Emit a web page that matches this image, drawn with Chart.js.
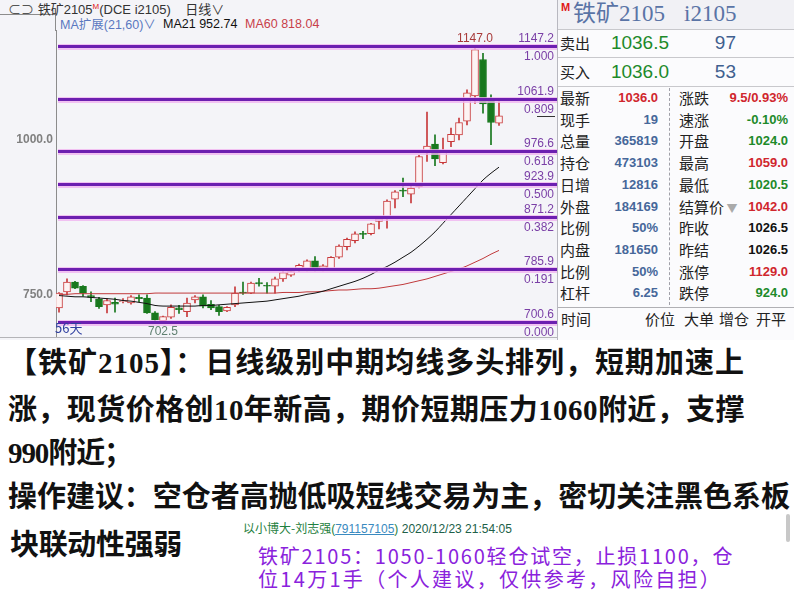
<!DOCTYPE html>
<html>
<head>
<meta charset="utf-8">
<script src="https://cdn.jsdelivr.net/npm/chart.js@4.4.1/dist/chart.umd.min.js"></script>
<style>
  body { margin: 0; width: 794px; height: 607px; overflow: hidden; background: #fff;
         font-family: "Liberation Sans", Arial, "Noto Sans CJK SC", sans-serif; }
  .abs { position: absolute; white-space: nowrap; }
  #top { position: absolute; left: 0; top: 0; width: 557px; height: 340px; background: #f4f4f8; }
  #chartBox { position: absolute; left: 0; top: 30px; width: 557px; height: 307px; }
  #quote { position: absolute; left: 557px; top: 0; width: 237px; height: 340px; background: #fbfbfd;
           border-left: 1px solid #b8b8c0; box-sizing: border-box; }
  .cjk { font-family: "Noto Sans CJK SC", sans-serif; }
  .note { position: absolute; left: 8px; white-space: nowrap; font-weight: bold; font-size: 29px;
          line-height: 30px; color: #111; font-family: "Liberation Serif", "Noto Sans CJK SC", serif; }
  .chat { position: absolute; left: 258px; white-space: nowrap; font-size: 20px; line-height: 21px;
          color: #8a22dc; font-family: "Noto Sans CJK SC", sans-serif; }
  .hd { position: absolute; top: 16px; font-size: 12.5px; line-height: 16px; white-space: nowrap; }
</style>
</head>
<body>

<div id="top">
  <div class="abs" style="left:0;top:14px;width:55px;height:1px;background:#8c8c8c"></div>
  <div class="abs" style="left:55px;top:14px;width:1px;height:17px;background:#8c8c8c"></div>
  <div class="abs" style="left:8px;top:0;font-size:13px;line-height:14px;color:#333">
    <span style="color:#555">⊂⊃</span> <span class="cjk">铁矿</span>2105<sup style="color:#e02020;font-size:8px">M</sup>(DCE i2105) &nbsp;&nbsp;&nbsp;<span class="cjk">日线∨</span>
  </div>
  <div class="hd" style="left:60px;color:#5a78c0">MA<span class="cjk">扩展</span>(21,60)∨</div>
  <div class="hd" id="ma21Txt" style="left:163px;color:#111"></div>
  <div class="hd" id="ma60Txt" style="left:245px;color:#c8404a"></div>
  <div id="chartBox"><canvas id="kChart"></canvas></div>
  <div class="abs cjk" style="left:55px;top:320px;font-size:13px;line-height:16px;color:#3040a0">56天</div>
  <div class="abs" style="left:0;top:337px;width:557px;height:1px;background:#b4b4b8"></div>
</div>

<div id="quote">
  <div class="abs" style="left:0;top:0;width:236px;height:29px;background:#f1f1f5"></div>
  <div class="abs" style="left:3px;top:1px;font-size:11px;font-weight:bold;color:#e01818">M</div>
  <div class="abs" style="left:15px;top:0;font-size:23px;line-height:27px;color:#5a74a6;font-family:'Liberation Serif','Noto Sans CJK SC',serif">铁矿2105</div>
  <div class="abs" style="left:126px;top:0;font-size:23px;line-height:27px;color:#5a74a6;font-family:'Liberation Serif',serif">i2105</div>
  <div class="abs" style="left:0;top:29px;width:236px;height:1px;background:#c8c8cc"></div>
  <div class="abs" style="left:0;top:57px;width:236px;height:1px;background:#c8c8cc"></div>
  <div class="abs" style="left:0;top:86px;width:236px;height:1px;background:#c8c8cc"></div>
  <div class="abs" style="left:111px;top:88px;width:0;height:217px;border-left:1px dashed #a0a0a8"></div>
  <div class="abs" style="left:0;top:307px;width:236px;height:1px;background:#b0b0b4"></div>
  <div id="rows"></div>
  <div class="abs cjk" style="left:3px;top:309px;font-size:15px;line-height:20px;color:#222">时间</div>
  <div class="abs cjk" style="left:87px;top:309px;font-size:15px;line-height:20px;color:#222">价位</div>
  <div class="abs cjk" style="left:126px;top:309px;font-size:15px;line-height:20px;color:#222">大单</div>
  <div class="abs cjk" style="left:161px;top:309px;font-size:15px;line-height:20px;color:#222">增仓</div>
  <div class="abs cjk" style="left:198px;top:309px;font-size:15px;line-height:20px;color:#222">开平</div>
</div>

<div class="note fit" data-w="737" style="top:348px">【铁矿2105】：日线级别中期均线多头排列，短期加速上</div>
<div class="note fit" data-w="737" style="top:395px">涨，现货价格创10年新高，期价短期压力1060附近，支撑</div>
<div class="note fit" data-w="124" style="top:438px">990附近；</div>
<div class="note fit" data-w="782" style="top:482px">操作建议：空仓者高抛低吸短线交易为主，密切关注黑色系板</div>
<div class="note fit" data-w="172" style="top:530px;left:10px">块联动性强弱</div>

<div class="abs" style="left:243px;top:520px;font-size:12px;line-height:16px;color:#1f8040">
  <span class="cjk">以小博大-刘志强</span>(<span style="color:#3a8ac0;text-decoration:underline">791157105</span>) <span style="color:#206048">2020/12/23 21:54:05</span>
</div>
<div class="chat fit" data-w="476" style="top:545px">铁矿2105：1050-1060轻仓试空，止损1100，仓</div>
<div class="chat fit" data-w="464" style="top:568px">位14万1手（个人建议，仅供参考，风险自担）</div>
<div class="abs" style="left:786px;top:514px;width:4px;height:28px;background:#c8c8c8;border-radius:2px"></div>

<script>
// daily candles, oldest first
const opens  = [725,751,767,760,745,739,730,734,735,733, 742,741,717,704.5,710,725,719,738,743,731,
                727,720,730,750,749,766,761,760,772,778, 786,787,801,787,788,807,824,834,845,845,
                865,869,901,915,909,921,976,990,960,994, 1005,1027,1068,1127,1060,1024];
const highs  = [750,772,768,761,751,742,740,741,740,745, 746,746,719,712,730,729,741,745,746,737,
                729,727,759,767,767,773,766,775,784,786, 796,803,808,795,808,827,838,848,849,862,
                871,900,915,935,922,972,1042,1005,1000,1016, 1032,1078,1147,1137,1070,1059];
const lows   = [718,746,756,744,735,724,717,718,733,731, 735,716,704,702.5,708,716,711,733,725,722,
                713,719,727,747,748,760,749,749,768,776, 784,785,785,785,787,805,819,830,837,843,
                853,854,887,905,895,919,962,955,958,986, 997,1021,1056,1040,989,1020.5];
const closes = [749,767,757,749,742,727,737,731,737,743, 740,717,706,711,726,722,733,743,728,725,
                719,726,749,749,765,764,760,772,782,784, 794,801,787,793,807,825,836,845,844,861,
                869,898,913,914,919,970,987,966,978,1006, 1025,1073,1143,1055,1025,1036];

// moving averages
const ma21 = [745,744,743,743,742,741,740,739,737,736, 734,732,729,728,728,728,728,728,729,729,
              730,731,732,733,734,735,736,738,740,742, 744,747,749,752,756,760,764,768,773,779,
              786,792,799,807,815,825,836,848,862,876, 890,904,918,932,943,952.74];
const ma60 = [747,747,748,748,748,748,748,748,748,748, 748,748,749,749,749,749,749,749,749,749,
              749,749,749,749,749,749,749,749,750,750, 750,751,751,752,753,754,754,755,756,756,
              757,759,761,763,766,769,772,776,780,784, 788,793,799,805,812,818.04];

// golden section levels
const fibLevels = [1147.2, 1061.9, 976.6, 923.9, 871.2, 785.9, 700.6];
const fibRatios = ['1.000', '0.809', '0.618', '0.500', '0.382', '0.191', '0.000'];
const yTicks = [750, 1000];

// quote panel
const quoteRows = [
  ['最新', '1036.0', '#d0262d', '涨跌', '9.5/0.93%', '#d0262d'],
  ['现手', '19', '#46679a', '速涨', '-0.10%', '#1d8a2a'],
  ['总量', '365819', '#46679a', '开盘', '1024.0', '#1d8a2a'],
  ['持仓', '473103', '#46679a', '最高', '1059.0', '#d0262d'],
  ['日增', '12816', '#46679a', '最低', '1020.5', '#1d8a2a'],
  ['外盘', '184169', '#46679a', '结算价', '1042.0', '#d0262d'],
  ['比例', '50%', '#46679a', '昨收', '1026.5', '#111'],
  ['内盘', '181650', '#46679a', '昨结', '1026.5', '#111'],
  ['比例', '50%', '#46679a', '涨停', '1129.0', '#d0262d'],
  ['杠杆', '6.25', '#46679a', '跌停', '924.0', '#1d8a2a']
];

document.getElementById('ma21Txt').textContent = 'MA21 ' + ma21[ma21.length - 1].toFixed(2);
document.getElementById('ma60Txt').textContent = 'MA60 ' + ma60[ma60.length - 1].toFixed(2);

// build quote rows
let rowsHtml = '';
rowsHtml += '<div class="abs cjk" style="left:2px;top:32px;font-size:15px;line-height:22px;color:#222">卖出</div>';
rowsHtml += '<div class="abs" style="right:125px;top:31px;font-size:19px;line-height:24px;color:#1d8a2a">1036.5</div>';
rowsHtml += '<div class="abs" style="right:58px;top:31px;font-size:19px;line-height:24px;color:#3f5f8f">97</div>';
rowsHtml += '<div class="abs cjk" style="left:2px;top:61px;font-size:15px;line-height:22px;color:#222">买入</div>';
rowsHtml += '<div class="abs" style="right:125px;top:60px;font-size:19px;line-height:24px;color:#1d8a2a">1036.0</div>';
rowsHtml += '<div class="abs" style="right:58px;top:60px;font-size:19px;line-height:24px;color:#3f5f8f">53</div>';
quoteRows.forEach(function(r, i) {
  const top = 87 + i * 21.7;
  rowsHtml += '<div class="abs cjk" style="left:2px;top:' + top + 'px;font-size:15px;line-height:22px;color:#222">' + r[0] + '</div>';
  rowsHtml += '<div class="abs" style="right:136px;top:' + top + 'px;font-size:13px;font-weight:bold;line-height:22px;color:' + r[2] + '">' + r[1] + '</div>';
  let lab = r[3] === '结算价' ? r[3] + '<span style="color:#aaa;font-size:11px"> ▼</span>' : r[3];
  rowsHtml += '<div class="abs cjk" style="left:121px;top:' + top + 'px;font-size:15px;line-height:22px;color:#222">' + lab + '</div>';
  rowsHtml += '<div class="abs" style="right:6px;top:' + top + 'px;font-size:13px;font-weight:bold;line-height:22px;color:' + r[5] + '">' + r[4] + '</div>';
});
document.getElementById('rows').innerHTML = rowsHtml;

// stretch the text lines to the widths seen in the screenshot (a few passes)
function fitLines() {
  document.querySelectorAll('.fit').forEach(function(el) {
    const n = el.textContent.length;
    let s = 0;
    el.style.letterSpacing = '0px';
    for (let k = 0; k < 4; k++) {
      const w = el.getBoundingClientRect().width;
      s += (Number(el.dataset.w) - w) / n;
      el.style.letterSpacing = s.toFixed(2) + 'px';
    }
  });
}
fitLines();
if (document.fonts && document.fonts.ready) document.fonts.ready.then(fitLines);
window.addEventListener('load', fitLines);

// chart
const upColor = '#c8393b';
const upFill = '#fdf3f3';
const downColor = '#18781d';
const isUp = closes.map(function(c, i) { return c >= opens[i]; });

const wickData = highs.map(function(h, i) { return { x: i, y: [lows[i], h] }; });
const bodyData = opens.map(function(o, i) { return { x: i, y: [o, closes[i]] }; });

const overlayPlugin = {
  id: 'overlay',
  afterDatasetsDraw(chart) {
    const ctx = chart.ctx;
    const a = chart.chartArea;
    const x = chart.scales.x;
    const y = chart.scales.y;
    ctx.save();
    ctx.font = '12px "Liberation Sans", Arial';
    ctx.textAlign = 'right';
    ctx.textBaseline = 'middle';
    fibLevels.forEach(function(lv, i) {
      const py = Math.round(y.getPixelForValue(lv));
      ctx.fillStyle = 'rgba(240,180,240,0.8)';
      ctx.fillRect(a.left + 2, py - 3, a.right - a.left, 6);
      ctx.fillStyle = '#6c1fb0';
      ctx.fillRect(a.left + 2, py - 2, a.right - a.left, 3);
      ctx.fillStyle = '#7a3fa6';
      ctx.fillText(lv.toFixed(1), a.right - 1, py - 8);
      ctx.fillText(fibRatios[i], a.right - 1, py + 10);
    });

    // highest high and lowest low
    const hi = highs.indexOf(Math.max.apply(null, highs));
    const lo = lows.indexOf(Math.min.apply(null, lows));
    ctx.textAlign = 'center';
    ctx.fillStyle = '#a83a3a';
    ctx.fillText(highs[hi].toFixed(1), x.getPixelForValue(hi), y.getPixelForValue(highs[hi]) - 8);
    ctx.fillStyle = '#5f7f70';
    ctx.fillText(lows[lo].toFixed(1), x.getPixelForValue(lo), y.getPixelForValue(lows[lo]) + 10);

    // last price marker on the right edge
    const lp = Math.round(y.getPixelForValue(closes[closes.length - 1])) + 0.5;
    ctx.strokeStyle = '#333';
    ctx.lineWidth = 1;
    ctx.beginPath();
    ctx.moveTo(a.right - 18, lp);
    ctx.lineTo(a.right, lp);
    ctx.stroke();
    ctx.restore();
  }
};

new Chart(document.getElementById('kChart'), {
  type: 'bar',
  data: {
    datasets: [
      {
        type: 'line',
        label: 'MA21',
        data: ma21.map(function(v, i) { return { x: i, y: v }; }),
        borderColor: '#111',
        borderWidth: 1,
        pointRadius: 0,
        tension: 0.3,
        order: 0
      },
      {
        type: 'line',
        label: 'MA60',
        data: ma60.map(function(v, i) { return { x: i, y: v }; }),
        borderColor: '#c0393b',
        borderWidth: 1,
        pointRadius: 0,
        tension: 0.3,
        order: 0
      },
      {
        label: 'body',
        data: bodyData,
        backgroundColor: isUp.map(function(u) { return u ? upFill : downColor; }),
        borderColor: isUp.map(function(u) { return u ? upColor : downColor; }),
        borderWidth: 1,
        borderSkipped: false,
        barThickness: 7,
        minBarLength: 1,
        grouped: false,
        order: 1
      },
      {
        label: 'wick',
        data: wickData,
        backgroundColor: isUp.map(function(u) { return u ? upColor : downColor; }),
        borderWidth: 0,
        barThickness: 1,
        grouped: false,
        order: 2
      }
    ]
  },
  options: {
    responsive: true,
    maintainAspectRatio: false,
    animation: false,
    events: [],
    layout: { padding: { left: 0, right: 2, top: 0, bottom: 0 } },
    plugins: { legend: { display: false }, tooltip: { enabled: false } },
    scales: {
      x: {
        type: 'linear',
        display: false,
        offset: false,
        min: -0.375,
        max: 62
      },
      y: {
        type: 'linear',
        position: 'left',
        min: 677.95,
        max: 1174.7,
        grid: { display: false, drawTicks: false, tickLength: 0 },
        border: { color: '#8c8c8c' },
        ticks: {
          color: '#808080',
          padding: 3,
          labelOffset: 2,
          font: { size: 12, weight: 'bold', family: '"Liberation Sans", Arial' },
          callback: function(v) { return Number(v).toFixed(1); }
        },
        afterBuildTicks: function(s) { s.ticks = yTicks.map(function(v) { return { value: v }; }); },
        afterFit: function(s) { s.width = 56; s.paddingTop = 0; s.paddingBottom = 0; }
      }
    }
  },
  plugins: [overlayPlugin]
});
</script>
</body>
</html>
